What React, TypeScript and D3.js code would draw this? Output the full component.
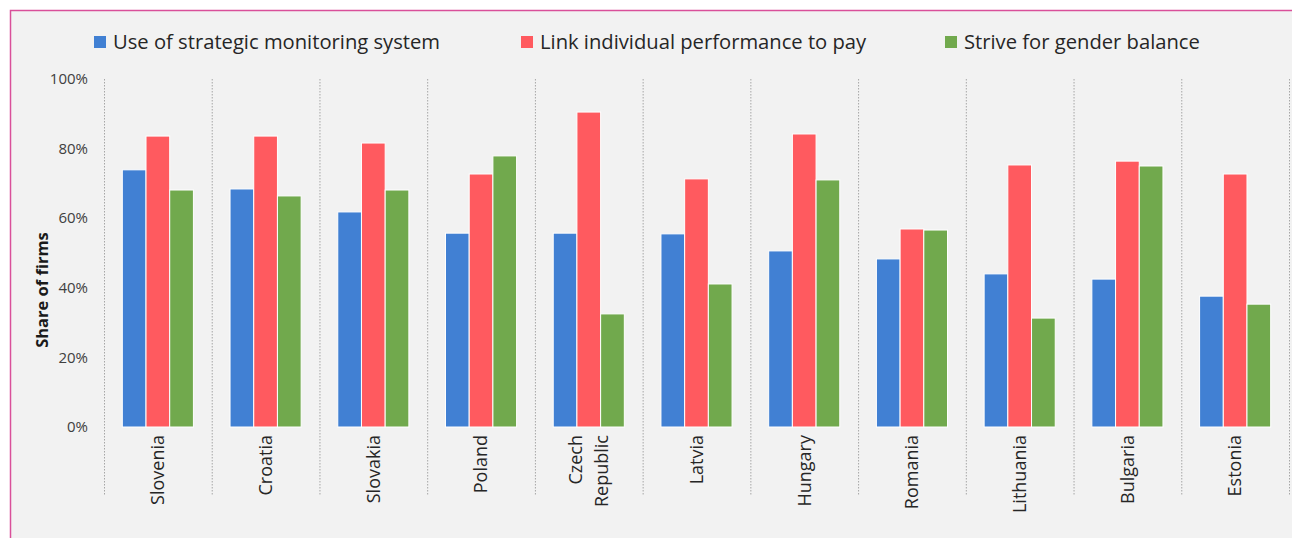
import { useEffect, useRef } from "react"
import * as d3 from "d3"

const countries = [
  "Slovenia",
  "Croatia",
  "Slovakia",
  "Poland",
  "Czech Republic",
  "Latvia",
  "Hungary",
  "Romania",
  "Lithuania",
  "Bulgaria",
  "Estonia",
]
const seriesNames = [
  "Use of strategic monitoring system",
  "Link individual performance to pay",
  "Strive for gender balance",
]
const monitoring = [73.9, 68.4, 61.8, 55.7, 55.7, 55.5, 50.6, 48.3, 44.0, 42.5, 37.6]
const linkPay = [83.6, 83.6, 81.6, 72.7, 90.5, 71.3, 84.2, 56.9, 75.3, 76.4, 72.7]
const genderBalance = [68.1, 66.4, 68.1, 77.9, 32.5, 41.1, 71.0, 56.6, 31.3, 75.0, 35.3]
const yTicks = [0, 20, 40, 60, 80, 100]

const colors = ["#4180d3", "#ff5a5f", "#71a94d"]
const W = 1292
const H = 538
const FONT = "'Open Sans', 'Noto Sans', sans-serif"

export default function App() {
  const svgRef = useRef<SVGSVGElement>(null)

  useEffect(() => {
    if (!svgRef.current) return
    const svg = d3.select(svgRef.current)
    svg.selectAll("*").remove()

    // panel background + pink frame
    svg.append("rect").attr("width", W).attr("height", H).attr("fill", "#ffffff")
    svg
      .append("rect")
      .attr("x", 10.5)
      .attr("y", 10.5)
      .attr("width", W + 10)
      .attr("height", H + 10)
      .attr("fill", "#f2f2f2")
      .attr("stroke", "#d9509a")
      .attr("stroke-width", 1.5)

    const x = d3.scaleBand<string>().domain(countries).range([104, 1289]).padding(0)
    const xs = d3
      .scaleBand<string>()
      .domain(seriesNames)
      .range([x.bandwidth() * 0.17, x.bandwidth() * 0.83])
      .padding(0)
    const y = d3.scaleLinear().domain([0, 100]).range([427, 79])

    // dotted category separators
    const seps = countries.map((c) => x(c) as number).concat([x.range()[1]])
    svg
      .append("g")
      .selectAll("line")
      .data(seps)
      .join("line")
      .attr("x1", (d) => d + 0.5)
      .attr("x2", (d) => d + 0.5)
      .attr("y1", y(100))
      .attr("y2", 495)
      .attr("stroke", "#a6a6a6")
      .attr("stroke-width", 1)
      .attr("stroke-dasharray", "1.5,1.5")

    // y tick labels
    svg
      .append("g")
      .selectAll("text")
      .data(yTicks)
      .join("text")
      .attr("x", 88)
      .attr("y", (d) => y(d))
      .attr("dy", "0.35em")
      .attr("text-anchor", "end")
      .attr("font-family", FONT)
      .attr("font-size", 15)
      .attr("fill", "#404040")
      .text((d) => `${d}%`)

    svg
      .append("text")
      .attr("transform", `translate(48, 290) rotate(-90)`)
      .attr("text-anchor", "middle")
      .attr("font-family", FONT)
      .attr("font-size", 16.5)
      .attr("font-weight", "bold")
      .attr("fill", "#1a1a1a")
      .text("Share of firms")

    // bars
    const allSeries = [monitoring, linkPay, genderBalance]
    allSeries.forEach((vals, si) => {
      svg
        .append("g")
        .selectAll("rect")
        .data(vals)
        .join("rect")
        .attr("x", (_, i) => (x(countries[i]) as number) + (xs(seriesNames[si]) as number))
        .attr("y", (d) => y(d))
        .attr("width", xs.bandwidth())
        .attr("height", (d) => y(0) - y(d))
        .attr("fill", colors[si])
        .attr("stroke", "#ffffff")
        .attr("stroke-width", 1)
    })

    // category labels (rotated)
    const lab = svg
      .append("g")
      .selectAll("text")
      .data(countries)
      .join("text")
      .attr("font-family", FONT)
      .attr("font-size", 18)
      .attr("fill", "#262626")
      .attr("text-anchor", "end")
      .attr("transform", (d) => `translate(${(x(d) as number) + x.bandwidth() / 2}, 435) rotate(-90)`)
    lab.each(function (d) {
      const parts = d === "Czech Republic" ? ["Czech", "Republic"] : [d]
      const t = d3.select(this)
      parts.forEach((p, k) => {
        t.append("tspan")
          .attr("x", 0)
          .attr("y", 0)
          .attr("dy", `${0.35 + (k - (parts.length - 1) / 2) * 1.4}em`)
          .text(p)
      })
    })

    // legend
    const legendX = [94, 521, 945]
    const legend = svg
      .append("g")
      .selectAll("g")
      .data(seriesNames)
      .join("g")
      .attr("transform", (_, i) => `translate(${legendX[i]}, 42)`)
    legend
      .append("rect")
      .attr("x", 0)
      .attr("y", -6)
      .attr("width", 12)
      .attr("height", 12)
      .attr("fill", (_, i) => colors[i])
    legend
      .append("text")
      .attr("x", 19)
      .attr("dy", "0.35em")
      .attr("font-family", FONT)
      .attr("font-size", 20.2)
      .attr("fill", "#262626")
      .text((d) => d)
  }, [])

  return (
    <svg
      ref={svgRef}
      width={W}
      height={H}
      style={{ position: "absolute", left: 0, top: 0, display: "block" }}
    />
  )
}
